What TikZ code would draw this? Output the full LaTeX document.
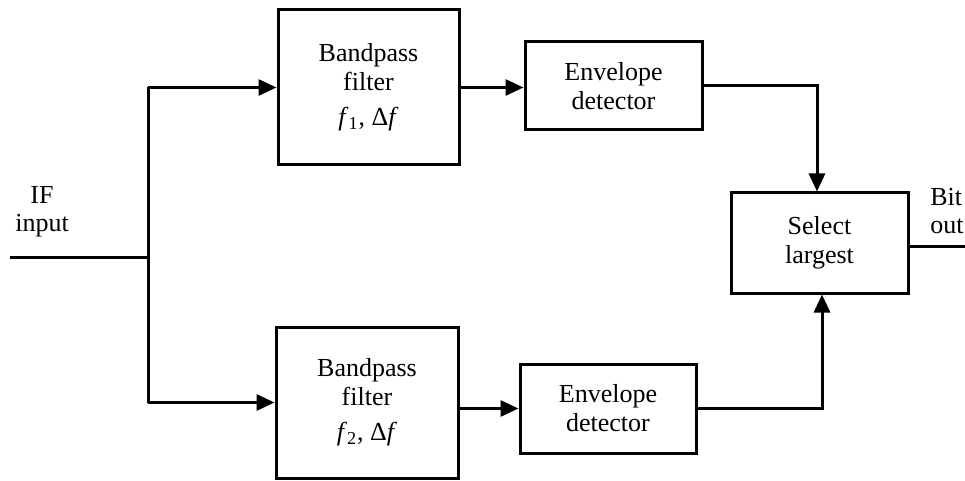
\documentclass[tikz,border=0pt]{standalone}
\usepackage{fontspec}
\setmainfont{Liberation Serif}
\usetikzlibrary{arrows.meta}
\begin{document}
\begin{tikzpicture}[x=0.5pt,y=-0.5pt,
  blk/.style={draw, line width=1.5pt, align=center,
    font=\fontsize{13}{14.5}\selectfont, inner sep=0pt},
  wire/.style={line width=1.5pt},
  arr/.style={wire, -{Triangle[length=9pt,width=8pt]}},
  lbl/.style={font=\fontsize{13}{14}\selectfont, inner sep=0pt}]
\useasboundingbox (0,0) rectangle (965,481);

% blocks
\node[blk, minimum width=90.5pt, minimum height=77.5pt] (bp1) at (368.5,87.5)
  {Bandpass\\filter\\[3pt]\textit{f}\textsubscript{1}, Δ\textit{f}};
\node[blk, minimum width=91pt, minimum height=75.5pt] (bp2) at (367,402.5)
  {Bandpass\\filter\\[3pt]\textit{f}\textsubscript{2}, Δ\textit{f}};
\node[blk, minimum width=88.5pt, minimum height=44pt] (env1) at (613.5,86)
  {Envelope\\detector};
\node[blk, minimum width=88pt, minimum height=44.5pt] (env2) at (608,408.5)
  {Envelope\\detector};
\node[blk, minimum width=88.5pt, minimum height=50pt] (sel) at (819.5,243)
  {Select\\largest};

% labels
\node[lbl, align=center] (inlbl) at (42,212) {IF\\input};
\node[lbl, align=left, anchor=west] (outlbl) at (930,211) {Bit\\out};

% input split
\coordinate (src) at (10,258);
\coordinate (split) at (148,258);
\coordinate (splitT) at (148,87.5);
\coordinate (splitB) at (148,402.5);
\draw[wire] (src) -- (split);
\draw[wire] (splitT) -- (splitB);
\draw[arr] (splitT) -- (bp1.west);
\draw[arr] (splitB) -- (bp2.west);

% filters to detectors
\draw[arr] (bp1.east) -- (bp1.east -| env1.west);
\draw[arr] (bp2.east |- env2.west) -- (env2.west);

% detectors to selector
\draw[arr] (env1.east) -| ([xshift=-1.25pt]sel.north);
\draw[arr] (env2.east) -| ([xshift=1.25pt]sel.south);

% output
\coordinate (sink) at (965,247);
\draw[wire] (sel.east |- sink) -- (sink);
\end{tikzpicture}
\end{document}
